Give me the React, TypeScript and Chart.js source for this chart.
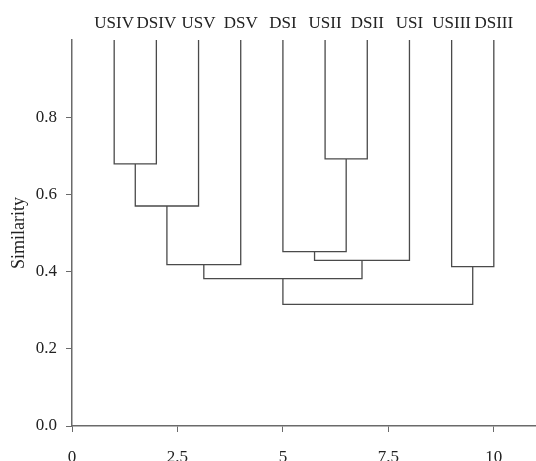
import { useEffect, useRef } from 'react';
import { Chart, registerables } from 'chart.js';

Chart.register(...registerables);

// Leaves in dendrogram order (leaf k sits at x = k)
const leafLabels = ['USIV', 'DSIV', 'USV', 'DSV', 'DSI', 'USII', 'DSII', 'USI', 'USIII', 'DSIII'];
// hclust-style merge table: negative = leaf number, positive = earlier merge step
const mergeLeft = [-6, -1, 2, -5, 4, 3, -9, 6, 8];
const mergeRight = [-7, -2, -3, 1, -8, -4, -10, 5, 7];
const mergeHeights = [0.692, 0.679, 0.570, 0.452, 0.429, 0.418, 0.413, 0.382, 0.315];
const leafHeight = 1.0;
const xTicks = [0, 2.5, 5, 7.5, 10];
const yTicks = [0, 0.2, 0.4, 0.6, 0.8];

const FONT = '"Liberation Serif", "Times New Roman", serif';
const LINE = '#4a4a4a';
const AXIS = '#6a6a6a';
const TEXT = '#222222';

type Pt = { x: number; y: number };

function buildSegments(): Pt[][] {
  const nodes: Pt[] = [];
  const pos = (id: number): Pt => (id < 0 ? { x: -id, y: leafHeight } : nodes[id - 1]);
  const segs: Pt[][] = [];
  for (let j = 0; j < mergeHeights.length; j++) {
    const a = pos(mergeLeft[j]);
    const b = pos(mergeRight[j]);
    const h = mergeHeights[j];
    nodes.push({ x: (a.x + b.x) / 2, y: h });
    segs.push([
      { x: a.x, y: a.y },
      { x: a.x, y: h },
      { x: b.x, y: h },
      { x: b.x, y: b.y },
    ]);
  }
  return segs;
}

const leafLabelPlugin = {
  id: 'leafLabels',
  afterDraw(chart: any) {
    const { ctx, chartArea } = chart;
    const xs = chart.scales.x;
    ctx.save();
    ctx.font = `17px ${FONT}`;
    ctx.fillStyle = TEXT;
    ctx.textAlign = 'center';
    ctx.textBaseline = 'alphabetic';
    leafLabels.forEach((lab, i) => {
      ctx.fillText(lab, xs.getPixelForValue(i + 1), chartArea.top - 12.5);
    });
    ctx.restore();
  },
};

export default function App() {
  const ref = useRef<HTMLCanvasElement | null>(null);

  useEffect(() => {
    if (!ref.current) return;
    const segs = buildSegments();
    const chart = new Chart(ref.current, {
      type: 'line',
      data: {
        datasets: segs.map((s) => ({
          data: s,
          borderColor: LINE,
          borderWidth: 1.3,
          pointRadius: 0,
          tension: 0,
          fill: false,
        })),
      },
      options: {
        animation: false,
        responsive: false,
        layout: { padding: { top: 40, right: 0, bottom: 0, left: 0 } },
        plugins: {
          legend: { display: false },
          tooltip: { enabled: false },
        },
        scales: {
          x: {
            type: 'linear',
            min: 0,
            max: 11,
            afterBuildTicks: (s: any) => {
              s.ticks = xTicks.map((v) => ({ value: v }));
            },
            afterFit: (s: any) => {
              s.height = 35;
            },
            grid: {
              display: true,
              drawOnChartArea: false,
              drawTicks: true,
              tickLength: 6,
              color: AXIS,
              lineWidth: 1,
            },
            border: { display: true, color: AXIS, width: 1.5 },
            ticks: {
              padding: 15,
              color: TEXT,
              font: { family: FONT, size: 17 },
              maxRotation: 0,
              autoSkip: false,
              callback: (v: any) => String(v),
            },
          },
          y: {
            type: 'linear',
            min: 0,
            max: 1,
            afterBuildTicks: (s: any) => {
              s.ticks = yTicks.map((v) => ({ value: v }));
            },
            afterFit: (s: any) => {
              s.width = 72;
            },
            grid: {
              display: true,
              drawOnChartArea: false,
              drawTicks: true,
              tickLength: 6,
              color: AXIS,
              lineWidth: 1,
            },
            border: { display: true, color: AXIS, width: 1.5 },
            ticks: {
              padding: 9,
              color: TEXT,
              font: { family: FONT, size: 17 },
              autoSkip: false,
              callback: (v: any) => Number(v).toFixed(1),
            },
            title: {
              display: true,
              text: 'Similarity',
              color: TEXT,
              font: { family: FONT, size: 18 },
              padding: { top: 8, bottom: 0 },
            },
          },
        },
      },
      plugins: [leafLabelPlugin],
    });
    return () => chart.destroy();
  }, []);

  return (
    <div style={{ position: 'absolute', left: 0, top: 0, width: 536, height: 461, background: '#fff' }}>
      <canvas ref={ref} width={536} height={461} style={{ display: 'block' }} />
    </div>
  );
}
